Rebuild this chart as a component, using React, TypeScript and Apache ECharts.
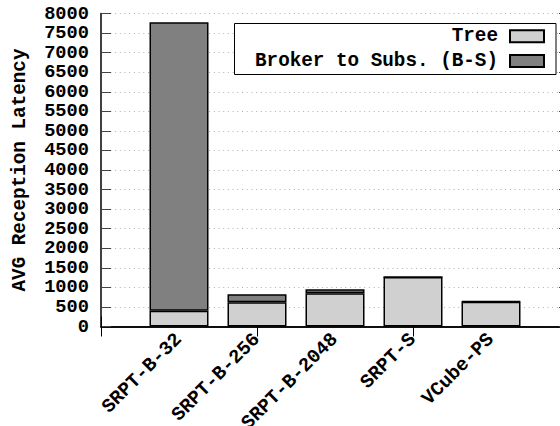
import React, { useEffect, useRef } from "react";
import * as echarts from "echarts";

const categories = ["SRPT-B-32", "SRPT-B-256", "SRPT-B-2048", "SRPT-S", "VCube-PS"];
const treeValues = [404, 619, 849, 1265, 634];
const brokerValues = [7375, 204, 102, 0, 10];
const yTicks = { min: 0, max: 8000, interval: 500 };

const FONT = "'Liberation Mono', 'Courier New', monospace";

export default function App() {
  const ref = useRef<HTMLDivElement>(null);
  useEffect(() => {
    if (!ref.current) return;
    const chart = echarts.init(ref.current, undefined, { renderer: "svg" });
    const txt = { fontFamily: FONT, fontWeight: "bold" as const, fontSize: 19.3, color: "#000" };
    // gnuplot-style x range: one empty slot on each side of the categories
    const axisCats = ["", ...categories, ""];
    const pad = (arr: number[]) => [null, ...arr, null];
    const xBase = {
      type: "category" as const,
      data: axisCats,
      boundaryGap: false,
      splitLine: { show: false },
    };
    chart.setOption({
      animation: false,
      backgroundColor: "#fff",
      grid: {
        left: 101,
        top: 13.5,
        width: 468,
        height: 313,
        containLabel: false,
        outerBoundsMode: "none",
      },
      xAxis: [
        {
          ...xBase,
          position: "bottom",
          axisLine: { show: true, lineStyle: { color: "#000", width: 1.5 } },
          axisTick: { show: true, inside: true, length: 10, lineStyle: { color: "#000" } },
          axisLabel: { ...txt, rotate: 45, margin: 10, interval: 0 },
        },
        {
          ...xBase,
          position: "top",
          axisLine: { show: true, lineStyle: { color: "#000", width: 1.5 } },
          axisTick: { show: true, inside: true, length: 10, lineStyle: { color: "#000" } },
          axisLabel: { show: false },
        },
      ],
      yAxis: [
        {
          type: "value",
          position: "left",
          ...yTicks,
          name: "AVG Reception Latency",
          nameLocation: "middle",
          nameGap: 72,
          nameRotate: 90,
          nameTextStyle: { ...txt },
          axisLine: { show: true, lineStyle: { color: "#000", width: 1.5 } },
          axisTick: { show: true, inside: true, length: 10, lineStyle: { color: "#444" } },
          axisLabel: {
            ...txt,
            fontSize: 18.7,
            lineHeight: 17,
            margin: 12,
            showMinLabel: true,
            showMaxLabel: true,
            hideOverlap: false,
            formatter: (v: number) => String(v),
          },
          splitLine: {
            show: true,
            lineStyle: { color: "#b0b0b0", width: 1, type: [1, 3.7] },
          },
        },
        {
          type: "value",
          position: "right",
          ...yTicks,
          axisLine: { show: true, lineStyle: { color: "#000", width: 1.5 } },
          axisTick: { show: true, inside: true, length: 10, lineStyle: { color: "#444" } },
          axisLabel: { show: false },
          splitLine: { show: false },
        },
      ],
      legend: [
        {
          data: ["Tree"],
          orient: "vertical",
          right: 15,
          top: 26.3,
          padding: 0,
          align: "right",
          itemWidth: 34,
          itemHeight: 12,
          icon: "rect",
          z: 6,
          textStyle: { ...txt, lineHeight: 20, padding: [0, 7, 0, 0] },
        },
        {
          data: ["Broker to Subs. (B-S)"],
          orient: "vertical",
          right: 15,
          top: 51,
          padding: 0,
          align: "right",
          itemWidth: 34,
          itemHeight: 12,
          icon: "rect",
          z: 6,
          textStyle: { ...txt, lineHeight: 20, padding: [0, 7, 0, 0] },
        },
      ],
      graphic: [
        {
          type: "rect",
          z: 5,
          shape: { x: 234.5, y: 23.5, width: 321.5, height: 51 },
          style: { fill: "#fff", stroke: "#000", lineWidth: 1 },
        },
      ],
      series: [
        {
          name: "Tree",
          type: "bar",
          stack: "total",
          barWidth: 59,
          data: pad(treeValues),
          itemStyle: { color: "#d0d0d0", borderColor: "#000", borderWidth: 1.5 },
        },
        {
          name: "Broker to Subs. (B-S)",
          type: "bar",
          stack: "total",
          barWidth: 59,
          data: pad(brokerValues),
          itemStyle: { color: "#808080", borderColor: "#000", borderWidth: 1.5 },
        },
      ],
    });
    return () => chart.dispose();
  }, []);
  return <div ref={ref} style={{ width: 560, height: 426, position: "absolute", left: 0, top: 0 }} />;
}
